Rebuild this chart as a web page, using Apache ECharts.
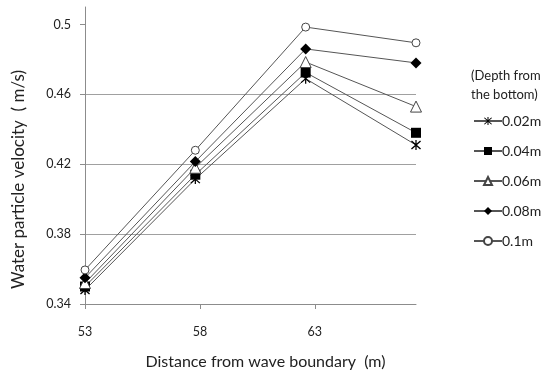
<!DOCTYPE html>
<html>
<head>
<meta charset="utf-8">
<script src="https://cdn.jsdelivr.net/npm/echarts@6/dist/echarts.min.js"></script>
<style>
  html, body { margin: 0; padding: 0; background: #fff; }
  #main { width: 556px; height: 375px; }
</style>
</head>
<body>
<div id="main"></div>
<script>
// distance from wave boundary (m)
var distance = [53, 57.8, 62.6, 67.4]
var xTicks = [53, 58, 63]
var yTicks = [0.34, 0.38, 0.42, 0.46, 0.5]

var depthNames = ['0.02m', '0.04m', '0.06m', '0.08m', '0.1m']
var v002 = [0.348, 0.4115, 0.469, 0.431]
var v004 = [0.350, 0.414, 0.4725, 0.438]
var v006 = [0.352, 0.418, 0.4785, 0.453]
var v008 = [0.355, 0.4215, 0.486, 0.478]
var v010 = [0.3595, 0.428, 0.4985, 0.4895]

var font = 'Lato'
var starPath = 'path://M-0.55,-5L0.55,-5L0.55,5L-0.55,5Z' +
  'M-4.4,-3.6L-3.6,-4.4L4.4,3.6L3.6,4.4Z' +
  'M3.6,-4.4L4.4,-3.6L-3.6,4.4L-4.4,3.6Z'

function pairs(vals) {
  return vals.map(function (v, i) { return [distance[i], v] })
}

function makeSeries(name, vals, symbol, size, filled) {
  return {
    name: name,
    type: 'line',
    data: pairs(vals),
    symbol: symbol,
    symbolSize: size,
    showAllSymbol: true,
    lineStyle: { color: '#555', width: 1 },
    itemStyle: {
      color: filled ? '#000' : '#fff',
      borderColor: filled ? '#000' : '#444',
      borderWidth: filled ? 0 : 1
    },
    emphasis: { disabled: true }
  }
}

var myChart = echarts.init(document.getElementById('main'))
var option = {
  animation: false,
  textStyle: { fontFamily: font },
  title: {
    text: '(Depth from\nthe bottom)',
    left: 466,
    top: 61,
    textStyle: { fontFamily: font, fontSize: 13, fontWeight: 'normal', color: '#222', lineHeight: 19 }
  },
  legend: {
    orient: 'vertical',
    left: 468,
    top: 109,
    itemWidth: 28,
    itemHeight: 10,
    itemGap: 16,
    textStyle: { fontFamily: font, fontSize: 14, color: '#222', padding: [0, 0, 0, -5] },
    data: depthNames
  },
  graphic: [{
    type: 'text',
    left: 10,
    top: 70,
    rotation: Math.PI / 2,
    style: { text: 'Water particle velocity  ( m/s)', font: '17px ' + font, fill: '#222' }
  }],
  grid: { left: 85, right: 140, top: 7, bottom: 66 },
  xAxis: {
    type: 'value',
    min: 53,
    max: 67.4,
    interval: 5,
    name: 'Distance from wave boundary  (m)',
    nameLocation: 'middle',
    nameGap: 50,
    nameTextStyle: { fontFamily: font, fontSize: 16, color: '#222', padding: [0, 0, 0, 30] },
    axisLine: { show: true, lineStyle: { color: '#8c8c8c' } },
    axisTick: { show: true, length: 5, customValues: xTicks, lineStyle: { color: '#8c8c8c' } },
    axisLabel: { customValues: xTicks, fontFamily: font, fontSize: 12.5, color: '#222', margin: 21 },
    splitLine: { show: false }
  },
  yAxis: {
    type: 'value',
    min: 0.34,
    max: 0.51,
    interval: 0.04,
    axisLine: { show: true, lineStyle: { color: '#8c8c8c' } },
    axisTick: { show: true, length: 5, customValues: yTicks, lineStyle: { color: '#8c8c8c' } },
    axisLabel: { customValues: yTicks, fontFamily: font, fontSize: 12.5, color: '#222', margin: 14 },
    splitLine: { show: true, showMaxLine: false, lineStyle: { color: '#a0a0a0' } }
  },
  series: [
    makeSeries(depthNames[0], v002, starPath, 10, true),
    makeSeries(depthNames[1], v004, 'rect', 10, true),
    makeSeries(depthNames[2], v006, 'triangle', 11, false),
    makeSeries(depthNames[3], v008, 'diamond', 11, true),
    makeSeries(depthNames[4], v010, 'circle', 8, false)
  ]
}
myChart.setOption(option)
</script>
</body>
</html>
